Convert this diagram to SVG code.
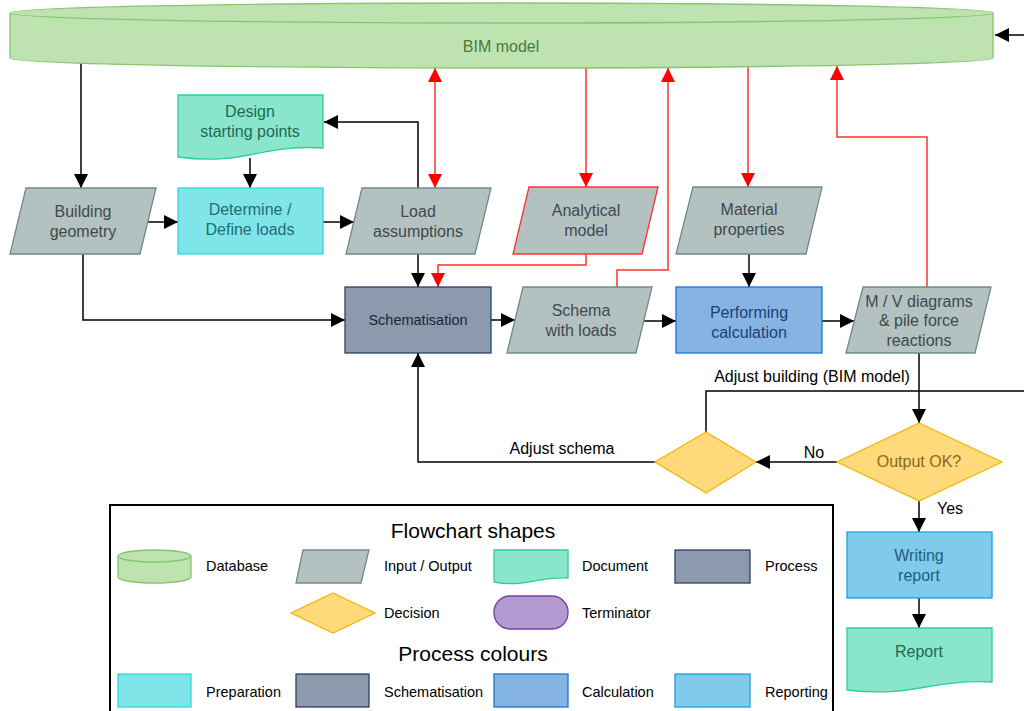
<svg xmlns="http://www.w3.org/2000/svg" width="1024" height="711" viewBox="0 0 1024 711">
  <style>
    text { font-family: "Liberation Sans", Arial, sans-serif; }
    .t { font-size: 16px; text-anchor: middle; }
    .lbl { font-size: 16px; fill: #000; }
    .leg { font-size: 14.5px; fill: #000; }
    .ttl { font-size: 21px; fill: #000; text-anchor: middle; }
    .io { fill: #B4C1C1; stroke: #6E8A8F; stroke-width: 1.3; }
    .io-t { fill: #3C4A4C; }
    .doc { fill: #89E6CC; stroke: #2CCF9C; stroke-width: 1.3; }
    .doc-t { fill: #1D6B4E; }
    .prep { fill: #80E5E9; stroke: #2FD7DD; stroke-width: 1.3; }
    .prep-t { fill: #1E6D78; }
    .sch { fill: #8D9AAE; stroke: #2B3F64; stroke-width: 1.3; }
    .sch-t { fill: #1B2536; }
    .calc { fill: #85B4E2; stroke: #1A73D8; stroke-width: 1.3; }
    .calc-t { fill: #1B3F7A; }
    .rep { fill: #7FCBE9; stroke: #1BA1E2; stroke-width: 1.3; }
    .rep-t { fill: #1F5E82; }
    .dec { fill: #FFD97A; stroke: #F2B705; stroke-width: 1.3; }
    .db { fill: #BFE3B0; stroke: #82C76F; stroke-width: 1.3; }
    .term { fill: #B39AD0; stroke: #7A3CA3; stroke-width: 1.3; }
    .red-edge { stroke: #FF3030; }
    .k { fill: none; stroke: #000; stroke-width: 1.5; marker-end: url(#ak); }
    .r { fill: none; stroke: #FF3030; stroke-width: 1.5; marker-end: url(#ar); }
  </style>
  <defs>
    <marker id="ak" viewBox="0 0 14 14" refX="14" refY="7" markerWidth="14" markerHeight="14" orient="auto-start-reverse" markerUnits="userSpaceOnUse">
      <path d="M0,0 L14,7 L0,14 Z" fill="#000"/>
    </marker>
    <marker id="ar" viewBox="0 0 14 14" refX="14" refY="7" markerWidth="14" markerHeight="14" orient="auto-start-reverse" markerUnits="userSpaceOnUse">
      <path d="M0,0 L14,7 L0,14 Z" fill="#FF0000"/>
    </marker>
  </defs>

  <rect width="1024" height="711" fill="#fff"/>

  <!-- connectors -->
  <g id="connectors">
    <path class="k" d="M81,63 V188"/>
    <path class="k" d="M250,158 V188"/>
    <path class="k" d="M148,222 H178"/>
    <path class="k" d="M323,222 H354"/>
    <path class="k" d="M418,188 V122 H324"/>
    <path class="r" d="M435,68 V188" style="marker-start:url(#ar)"/>
    <path class="k" d="M418,254 V287"/>
    <path class="r" d="M586,254 V265 H438 V287"/>
    <path class="r" d="M586,68 V187"/>
    <path class="r" d="M617,287 V270 H668 V68"/>
    <path class="r" d="M748,67 V187"/>
    <path class="k" d="M749,254 V287"/>
    <path class="r" d="M927,287 V137 H837 V66"/>
    <path class="k" d="M83,254 V320 H345"/>
    <path class="k" d="M491,320 H515"/>
    <path class="k" d="M644,321 H676"/>
    <path class="k" d="M822,321 H854"/>
    <path class="k" d="M919,353 V423"/>
    <path class="k" d="M837,462 H756"/>
    <path class="k" d="M655,462 H418 V353"/>
    <path class="k" d="M706,432 V391 H1034 V35 H995"/>
    <path class="k" d="M919,501 V532"/>
    <path class="k" d="M919,598 V628"/>
    <text class="lbl" x="812" y="382" text-anchor="middle">Adjust building (BIM model)</text>
    <text class="lbl" x="562" y="454" text-anchor="middle">Adjust schema</text>
    <text class="lbl" x="814" y="458" text-anchor="middle">No</text>
    <text class="lbl" x="937" y="514">Yes</text>
  </g>

  <g id="bim-model">
    <path class="db" d="M10,13 A491.5,10 0 0,1 993,13 L993,58 A491.5,10 0 0,1 10,58 Z"/>
    <path class="db" d="M10,13 A491.5,10 0 0,0 993,13" fill="none"/>
    <text class="t" x="501" y="52" fill="#4A7A3A">BIM model</text>
  </g>

  <g id="design-starting-points">
    <path class="doc" d="M178,95 H323 V148 C262,144 245,166 178,157 Z"/>
    <text class="t doc-t" x="250" y="117">Design</text>
    <text class="t doc-t" x="250" y="137">starting points</text>
  </g>

  <g id="building-geometry">
    <polygon class="io" points="26,188 156,188 140,254 10,254"/>
    <text class="t io-t" x="83" y="217">Building</text>
    <text class="t io-t" x="83" y="237">geometry</text>
  </g>

  <g id="determine-loads">
    <rect class="prep" x="178" y="188" width="145" height="66"/>
    <text class="t prep-t" x="250" y="215">Determine /</text>
    <text class="t prep-t" x="250" y="235">Define loads</text>
  </g>

  <g id="load-assumptions">
    <polygon class="io" points="362,188 491,188 475,254 346,254"/>
    <text class="t io-t" x="418" y="217">Load</text>
    <text class="t io-t" x="418" y="237">assumptions</text>
  </g>

  <g id="analytical-model">
    <polygon class="io red-edge" points="529,187 658,187 642,254 513,254"/>
    <text class="t io-t" x="586" y="216">Analytical</text>
    <text class="t io-t" x="586" y="236">model</text>
  </g>

  <g id="material-properties">
    <polygon class="io" points="693,187 822,187 806,254 676,254"/>
    <text class="t io-t" x="749" y="215">Material</text>
    <text class="t io-t" x="749" y="235">properties</text>
  </g>

  <g id="schematisation">
    <rect class="sch" x="345" y="287" width="146" height="66"/>
    <text class="t sch-t" x="418" y="325" style="font-size:14.5px">Schematisation</text>
  </g>

  <g id="schema-with-loads">
    <polygon class="io" points="523,287 652,287 636,353 507,353"/>
    <text class="t io-t" x="581" y="316">Schema</text>
    <text class="t io-t" x="581" y="336">with loads</text>
  </g>

  <g id="performing-calculation">
    <rect class="calc" x="676" y="287" width="146" height="66"/>
    <text class="t calc-t" x="749" y="318">Performing</text>
    <text class="t calc-t" x="749" y="338">calculation</text>
  </g>

  <g id="mv-diagrams">
    <polygon class="io" points="863,287 991,287 975,353 846,353"/>
    <text class="t io-t" x="919" y="307">M / V diagrams</text>
    <text class="t io-t" x="919" y="326">&amp; pile force</text>
    <text class="t io-t" x="919" y="346">reactions</text>
  </g>

  <g id="output-ok">
    <polygon class="dec" points="919,423 1002,462 919,501 837,462"/>
    <text class="t" x="919" y="467" fill="#8A6A1A">Output OK?</text>
  </g>

  <g id="adjust-decision">
    <polygon class="dec" points="706,432 756,462 706,493 655,462"/>
  </g>

  <g id="writing-report">
    <rect class="rep" x="847" y="532" width="145" height="66"/>
    <text class="t rep-t" x="919" y="561">Writing</text>
    <text class="t rep-t" x="919" y="581">report</text>
  </g>

  <g id="report">
    <path class="doc" d="M847,628 H992 V682 C930,679 912,698 847,690 Z"/>
    <text class="t doc-t" x="919" y="657">Report</text>
  </g>

  <!-- legend -->
  <g id="legend">
    <rect x="110" y="505" width="723" height="220" fill="#fff" stroke="#000" stroke-width="2"/>
    <text class="ttl" x="473" y="538">Flowchart shapes</text>

    <path class="db" d="M118,556 A36.5,6 0 0,1 191,556 L191,577 A36.5,6 0 0,1 118,577 Z"/>
    <path class="db" d="M118,556 A36.5,6 0 0,0 191,556" fill="none"/>
    <text class="leg" x="206" y="571">Database</text>

    <polygon class="io" points="303,550 369,550 361,583 296,583"/>
    <text class="leg" x="384" y="571">Input / Output</text>

    <path class="doc" d="M494,550 H568 V578 C537,576 527,588 494,582 Z"/>
    <text class="leg" x="582" y="571">Document</text>

    <rect class="sch" x="675" y="550" width="75" height="33"/>
    <text class="leg" x="765" y="571">Process</text>

    <polygon class="dec" points="333,593 375,613 333,633 291,613"/>
    <text class="leg" x="384" y="618">Decision</text>

    <rect class="term" x="494" y="596" width="74" height="33" rx="16" ry="16"/>
    <text class="leg" x="582" y="618">Terminator</text>

    <text class="ttl" x="473" y="661">Process colours</text>

    <rect class="prep" x="118" y="674" width="73" height="33"/>
    <text class="leg" x="206" y="697">Preparation</text>
    <rect class="sch" x="296" y="674" width="73" height="33"/>
    <text class="leg" x="384" y="697">Schematisation</text>
    <rect class="calc" x="494" y="674" width="74" height="33"/>
    <text class="leg" x="582" y="697">Calculation</text>
    <rect class="rep" x="675" y="674" width="75" height="33"/>
    <text class="leg" x="765" y="697">Reporting</text>
  </g>
</svg>
